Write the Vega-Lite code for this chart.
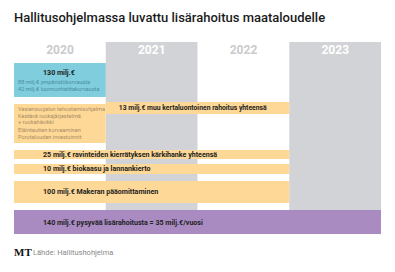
{
  "$schema": "https://vega.github.io/schema/vega-lite/v6.json",
  "width": 367,
  "height": 192,
  "autosize": "none",
  "padding": {"left": 14, "top": 42, "right": 14, "bottom": 38},
  "background": "white",
  "config": {"view": {"stroke": null}, "font": "Roboto"},
  "title": {
    "text": "Hallitusohjelmassa luvattu lisärahoitus maataloudelle",
    "anchor": "start",
    "frame": "group",
    "font": "Roboto",
    "fontSize": 13,
    "fontWeight": 500,
    "color": "#1a1a1a",
    "offset": 17
  },
  "datasets": {
    "vuodet": [
      {"vuosi": "2020", "alku": 2020, "loppu": 2021, "korostus": "ei"},
      {"vuosi": "2021", "alku": 2021, "loppu": 2022, "korostus": "kyllä"},
      {"vuosi": "2022", "alku": 2022, "loppu": 2023, "korostus": "ei"},
      {"vuosi": "2023", "alku": 2023, "loppu": 2024, "korostus": "kyllä"}
    ],
    "rahoitus": [
      {"nimi": "130 milj.€ korvaukset", "laji": "korvaukset", "alku": 2020, "loppu": 2021, "ylä": 21, "ala": 55},
      {"nimi": "kertaluontoiset hankkeet", "laji": "kertaluontoinen", "alku": 2020, "loppu": 2021, "ylä": 62, "ala": 101},
      {"nimi": "13 milj.€ muu kertaluontoinen rahoitus", "laji": "kertaluontoinen", "alku": 2021, "loppu": 2023, "ylä": 60, "ala": 72},
      {"nimi": "25 milj.€ ravinteiden kierrätys", "laji": "kertaluontoinen", "alku": 2020, "loppu": 2023, "ylä": 108, "ala": 117},
      {"nimi": "10 milj.€ biokaasu", "laji": "kertaluontoinen", "alku": 2020, "loppu": 2023, "ylä": 122, "ala": 132},
      {"nimi": "100 milj.€ Makera", "laji": "kertaluontoinen", "alku": 2020, "loppu": 2023, "ylä": 139, "ala": 161},
      {"nimi": "140 milj.€ pysyvä", "laji": "pysyvä", "alku": 2020, "loppu": 2024, "ylä": 168, "ala": 192}
    ],
    "otsikot": [
      {"teksti": "130 milj.€", "alku": 2020, "rivi": 31},
      {"teksti": "13 milj.€ muu kertaluontoinen rahoitus yhteensä", "alku": 2021, "rivi": 66},
      {"teksti": "25 milj.€ ravinteiden kierrätyksen kärkihanke yhteensä", "alku": 2020, "rivi": 113},
      {"teksti": "10 milj.€ biokaasu ja lannankierto", "alku": 2020, "rivi": 127},
      {"teksti": "100 milj.€ Makeran pääomittaminen", "alku": 2020, "rivi": 150},
      {"teksti": "140 milj.€ pysyvää lisärahoitusta = 35 milj.€/vuosi", "alku": 2020, "rivi": 181}
    ],
    "erittely": [
      {"teksti": "88 milj.€ ympäristökorvausta", "laji": "korvaukset", "alku": 2020, "rivi": 40},
      {"teksti": "42 milj.€ luonnonhaittakorvausta", "laji": "korvaukset", "alku": 2020, "rivi": 47},
      {"teksti": "Vesiensuojelun tehostamisohjelma", "laji": "kertaluontoinen", "alku": 2020, "rivi": 67},
      {"teksti": "Kestävä ruokajärjestelmä", "laji": "kertaluontoinen", "alku": 2020, "rivi": 74},
      {"teksti": "+ ruokahävikki", "laji": "kertaluontoinen", "alku": 2020, "rivi": 80},
      {"teksti": "Eläintautien korvaaminen", "laji": "kertaluontoinen", "alku": 2020, "rivi": 88},
      {"teksti": "Porotalouden investoinnit", "laji": "kertaluontoinen", "alku": 2020, "rivi": 95}
    ],
    "lahde": [
      {"logo": "MT", "teksti": "Lähde: Hallitushohjelma", "alku": 2020, "rivi": 211}
    ]
  },
  "layer": [
    {
      "data": {"name": "vuodet"},
      "transform": [{"filter": "datum.korostus == 'kyllä'"}],
      "mark": {"type": "rect", "color": "#d1d3d6"},
      "encoding": {
        "x": {"field": "alku", "type": "quantitative", "scale": {"domain": [2020, 2024], "nice": false, "zero": false}, "axis": null},
        "x2": {"field": "loppu"},
        "y": {"datum": 0, "type": "quantitative", "scale": {"domain": [0, 192], "reverse": true, "nice": false, "zero": false}, "axis": null},
        "y2": {"datum": 192}
      }
    },
    {
      "data": {"name": "vuodet"},
      "mark": {"type": "text", "dx": 46, "align": "center", "baseline": "middle", "fontSize": 12, "fontWeight": "bold"},
      "encoding": {
        "x": {"field": "alku", "type": "quantitative"},
        "y": {"datum": 8, "type": "quantitative"},
        "text": {"field": "vuosi"},
        "color": {"field": "korostus", "type": "nominal", "scale": {"domain": ["ei", "kyllä"], "range": ["#c9cbcd", "#ffffff"]}, "legend": null}
      }
    },
    {
      "data": {"name": "rahoitus"},
      "mark": {"type": "rect"},
      "encoding": {
        "x": {"field": "alku", "type": "quantitative"},
        "x2": {"field": "loppu"},
        "y": {"field": "ylä", "type": "quantitative"},
        "y2": {"field": "ala"},
        "fill": {"field": "laji", "type": "nominal", "scale": {"domain": ["korvaukset", "kertaluontoinen", "pysyvä"], "range": ["#7fcddd", "#fed896", "#a98bc2"]}, "legend": null}
      }
    },
    {
      "data": {"name": "otsikot"},
      "transform": [{"filter": "datum.alku == 2020"}],
      "mark": {"type": "text", "dx": 29, "align": "left", "baseline": "middle", "fontSize": 7.1, "fontWeight": "bold", "color": "#222222"},
      "encoding": {
        "x": {"field": "alku", "type": "quantitative"},
        "y": {"field": "rivi", "type": "quantitative"},
        "text": {"field": "teksti"}
      }
    },
    {
      "data": {"name": "otsikot"},
      "transform": [{"filter": "datum.alku == 2021"}],
      "mark": {"type": "text", "dx": 13, "align": "left", "baseline": "middle", "fontSize": 6.8, "fontWeight": "bold", "color": "#222222"},
      "encoding": {
        "x": {"field": "alku", "type": "quantitative"},
        "y": {"field": "rivi", "type": "quantitative"},
        "text": {"field": "teksti"}
      }
    },
    {
      "data": {"name": "erittely"},
      "transform": [{"filter": "datum.laji == 'korvaukset'"}],
      "mark": {"type": "text", "dx": 4, "align": "left", "baseline": "middle", "fontSize": 5.6, "color": "#4a8da3"},
      "encoding": {
        "x": {"field": "alku", "type": "quantitative"},
        "y": {"field": "rivi", "type": "quantitative"},
        "text": {"field": "teksti"}
      }
    },
    {
      "data": {"name": "erittely"},
      "transform": [{"filter": "datum.laji == 'kertaluontoinen'"}],
      "mark": {"type": "text", "dx": 4, "align": "left", "baseline": "middle", "fontSize": 5.6, "color": "#a88d66"},
      "encoding": {
        "x": {"field": "alku", "type": "quantitative"},
        "y": {"field": "rivi", "type": "quantitative"},
        "text": {"field": "teksti"}
      }
    },
    {
      "data": {"name": "lahde"},
      "mark": {"type": "text", "align": "left", "baseline": "middle", "font": "Liberation Serif", "fontSize": 11, "fontWeight": "bold", "color": "#111111"},
      "encoding": {
        "x": {"field": "alku", "type": "quantitative"},
        "y": {"field": "rivi", "type": "quantitative"},
        "text": {"field": "logo"}
      }
    },
    {
      "data": {"name": "lahde"},
      "mark": {"type": "text", "align": "left", "baseline": "middle", "dx": 19, "fontSize": 7.5, "color": "#8a8a8a"},
      "encoding": {
        "x": {"field": "alku", "type": "quantitative"},
        "y": {"field": "rivi", "type": "quantitative"},
        "text": {"field": "teksti"}
      }
    }
  ]
}
